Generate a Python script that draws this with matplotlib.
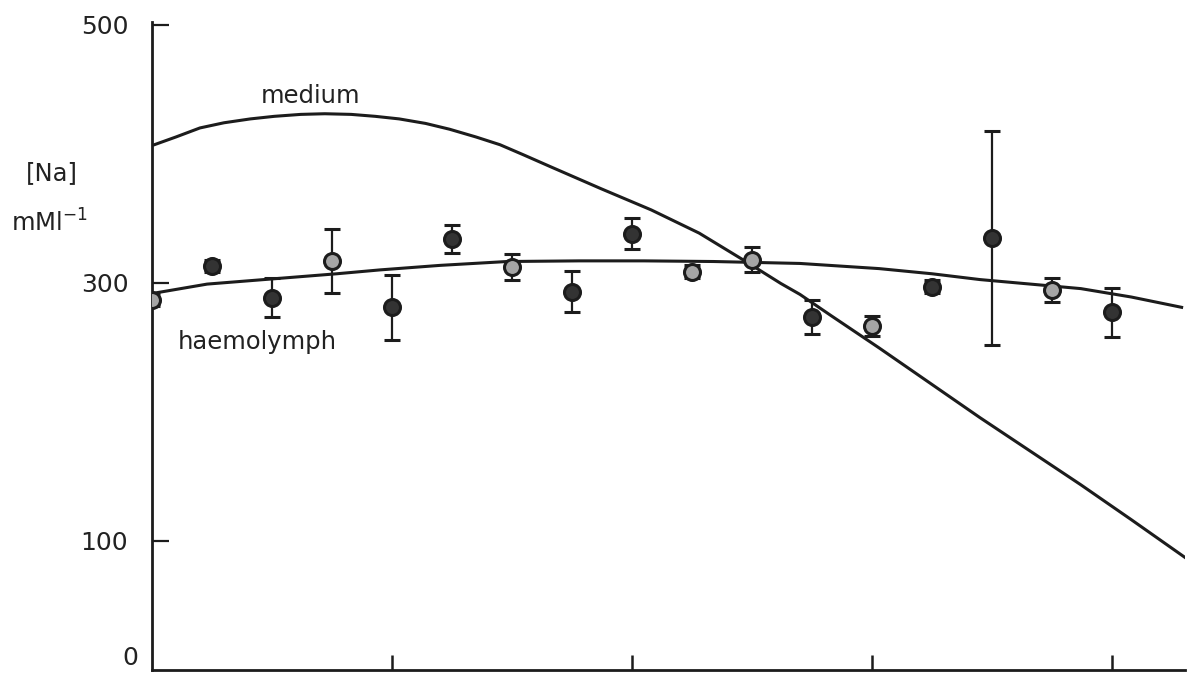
import numpy as np
import matplotlib
matplotlib.use("Agg")
import matplotlib.pyplot as plt

plt.rcParams['font.family'] = ['DejaVu Sans']
plt.rcParams['mathtext.default'] = 'regular'

# sodium in the medium (smooth curve)
medium_x = [0.01, 0.10, 0.20, 0.30, 0.41, 0.51, 0.62, 0.72, 0.83, 0.93,
            1.03, 1.14, 1.24, 1.35, 1.45, 1.55, 1.66, 1.87, 2.08, 2.28,
            2.47, 2.62, 2.70, 2.83, 3.03, 3.24, 3.45, 3.66, 3.87, 4.08, 4.34]
medium_y = [407, 413, 420, 424, 427, 429, 430.5, 431, 430.5, 429,
            427, 423.5, 419, 413, 407, 399, 390, 373, 356.5, 338.5,
            317, 299.5, 291, 274.5, 249.5, 222.5, 195.5, 169.5, 143.5, 116.5, 82.5]

# fitted haemolymph curve
haemo_x = [0.01, 0.23, 0.50, 0.77, 0.95, 1.20, 1.48, 1.78, 2.05, 2.34,
           2.70, 3.03, 3.25, 3.45, 3.66, 3.87, 4.08, 4.29]
haemo_y = [292, 299, 303, 307, 310, 313.5, 316.5, 317, 317, 316.5,
           315, 311, 307, 302.5, 299, 295.5, 289, 281]

# haemolymph samples, mean +/- error
sample_x = [0.0, 0.25, 0.5, 0.75, 1.0, 1.25, 1.5, 1.75, 2.0,
            2.25, 2.5, 2.75, 3.0, 3.25, 3.5, 3.75, 4.0]
sample_y = [287, 313, 288.5, 317, 281, 334, 312.5, 293, 338,
            308.5, 318, 273.5, 266.5, 297, 335, 294.5, 277]
sample_err = [5, 5, 15, 25, 25, 11, 10, 16, 12,
              5, 10, 13.5, 8, 5, 83, 9, 19]
sample_open = [True, False, False, True, False, False, True, False, False,
               True, True, False, True, False, False, True, False]

yticks = [100, 300, 500]

fig = plt.figure(figsize=(12.04, 6.79), dpi=100)
ax = fig.add_axes([0.1262, 0.0133, 0.858, 0.9547])

ink = '#1c1c1c'
ax.plot(medium_x, medium_y, color=ink, lw=2.2, zorder=2)
ax.plot(haemo_x, haemo_y, color=ink, lw=2.2, zorder=2)

sx = np.array(sample_x)
sy = np.array(sample_y)
se = np.array(sample_err)
op = np.array(sample_open)
for mask, face in [(~op, '#333333'), (op, '#a5a5a5')]:
    ax.errorbar(sx[mask], sy[mask], yerr=se[mask], fmt='o', ms=11.5,
                mfc=face, mec=ink, mew=2.2, ecolor=ink, elinewidth=1.6,
                capsize=5.5, capthick=1.8, zorder=3)

ax.set_xlim(0, 4.304)
ax.set_ylim(0, 502.3)

for side in ['top', 'right']:
    ax.spines[side].set_visible(False)
for side in ['left', 'bottom']:
    ax.spines[side].set_linewidth(2.0)
    ax.spines[side].set_color(ink)

ax.set_xticks([1, 2, 3, 4])
ax.set_xticklabels([])
ax.tick_params(axis='x', direction='in', length=11, width=1.8, color=ink)

ax.set_yticks(yticks)
ax.set_yticklabels([str(v) for v in yticks])
ax.set_yticks([0], minor=True)
zero_lbl = ax.set_yticklabels(['0'], minor=True)
for t in zero_lbl:
    t.set_verticalalignment('bottom')
ax.tick_params(axis='y', which='major', direction='in', length=12, width=1.6,
               color=ink, pad=17, labelsize=18, labelcolor='#222222')
ax.tick_params(axis='y', which='minor', length=0, pad=10,
               labelsize=18, labelcolor='#222222')

ax.text(0.66, 445, 'medium', fontsize=17.5, color='#222222', ha='center', va='center')
ax.text(0.44, 254, 'haemolymph', fontsize=17.5, color='#222222', ha='center', va='center')

fig.text(0.0432, 0.745, '[Na]', fontsize=17.5, color='#222222', ha='center', va='center')
fig.text(0.0415, 0.672, 'mMl$^{-1}$', fontsize=17.5, color='#222222', ha='center', va='center')

fig.savefig('out.png', dpi=100, facecolor='white')
